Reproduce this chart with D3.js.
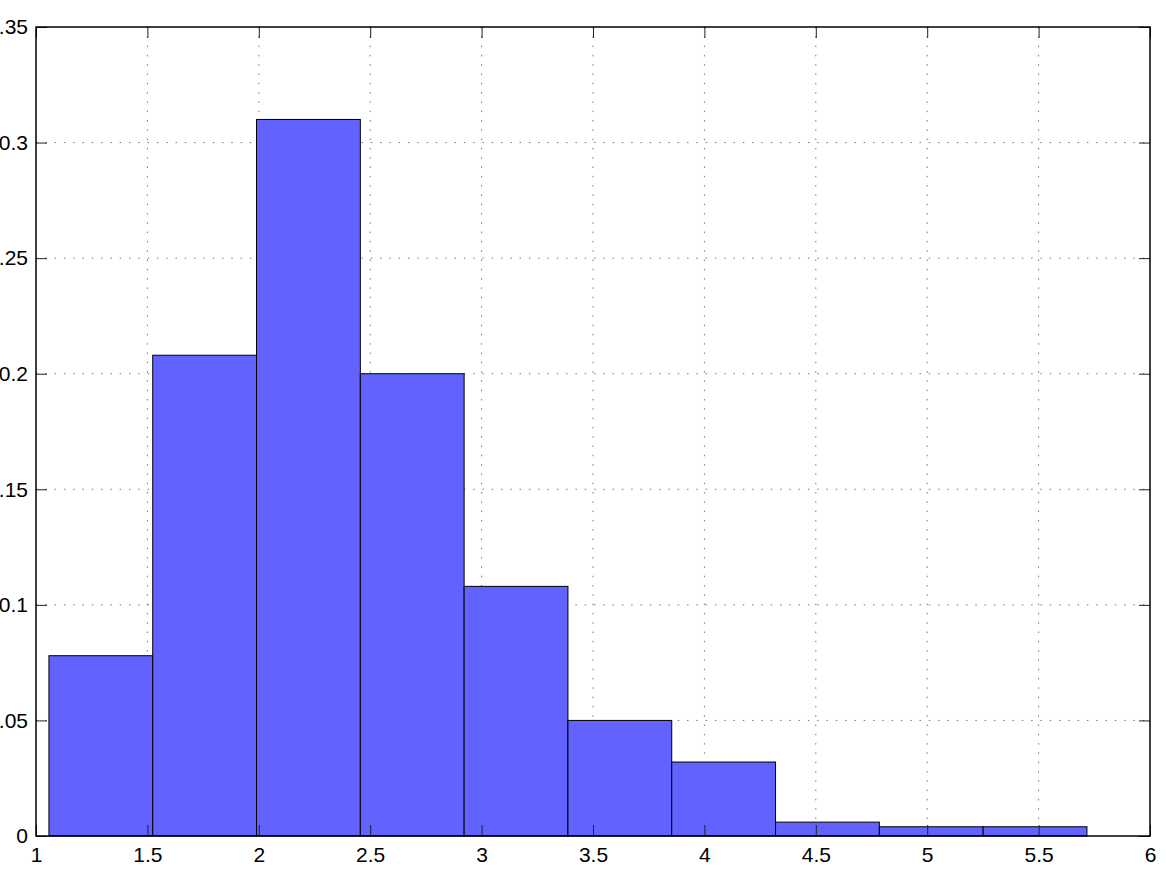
<!DOCTYPE html>
<html>
<head>
<meta charset="utf-8">
<script src="https://cdn.jsdelivr.net/npm/d3@7"></script>
<style>
  body { margin: 0; background: #fff; }
  text { font-family: "Liberation Sans", Arial, Helvetica, sans-serif; }
</style>
</head>
<body>
<script>
// histogram data
const binStart = 1.058;
const binWidth = 0.4659;
const freqs = [0.078, 0.208, 0.31, 0.2, 0.108, 0.05, 0.032, 0.006, 0.004, 0.004];
const xTicks = [1, 1.5, 2, 2.5, 3, 3.5, 4, 4.5, 5, 5.5, 6];
const yTicks = [0, 0.05, 0.1, 0.15, 0.2, 0.25, 0.3, 0.35];

const W = 1166, H = 875;
const margin = { top: 27, right: 16, bottom: 39, left: 36 };
const width = W - margin.left - margin.right;
const height = H - margin.top - margin.bottom;

const x = d3.scaleLinear().domain([1, 6]).range([0, width]);
const y = d3.scaleLinear().domain([0, 0.35]).range([height, 0]);

const svg = d3.select('body').append('svg')
  .attr('width', W)
  .attr('height', H);

const g = svg.append('g')
  .attr('transform', 'translate(' + margin.left + ',' + margin.top + ')');

// grid (dotted)
g.append('g').selectAll('line').data(xTicks.slice(1, -1)).join('line')
  .attr('x1', d => x(d)).attr('x2', d => x(d))
  .attr('y1', 0).attr('y2', height)
  .attr('stroke', '#777').attr('stroke-width', 1)
  .attr('stroke-dasharray', '1.5,7.8');
g.append('g').selectAll('line').data(yTicks.slice(1, -1)).join('line')
  .attr('y1', d => y(d)).attr('y2', d => y(d))
  .attr('x1', 0).attr('x2', width)
  .attr('stroke', '#777').attr('stroke-width', 1)
  .attr('stroke-dasharray', '1.5,7.8');

// bars
g.append('g').selectAll('rect').data(freqs).join('rect')
  .attr('x', (d, i) => x(binStart + i * binWidth))
  .attr('width', (d, i) => x(binStart + (i + 1) * binWidth) - x(binStart + i * binWidth))
  .attr('y', d => y(d))
  .attr('height', d => height - y(d))
  .attr('fill', '#6262ff')
  .attr('stroke', '#000')
  .attr('stroke-width', 1);

// axes, ticks pointing inward (matlab style)
const tl = 11;
const xAxis = d3.axisBottom(x).tickValues(xTicks).tickSizeInner(-tl).tickSizeOuter(0)
  .tickPadding(11).tickFormat(d3.format('~g'));
const yAxis = d3.axisLeft(y).tickValues(yTicks).tickSizeInner(-tl).tickSizeOuter(0)
  .tickPadding(8).tickFormat(d3.format('~g'));

const gx = g.append('g').attr('class', 'x axis')
  .attr('transform', 'translate(0,' + height + ')')
  .call(xAxis);
const gy = g.append('g').attr('class', 'y axis').call(yAxis);

// top and right ticks, no labels
const gxTop = g.append('g').call(d3.axisTop(x).tickValues(xTicks).tickSizeInner(-tl).tickSizeOuter(0).tickFormat(''));
const gyRight = g.append('g').attr('transform', 'translate(' + width + ',0)')
  .call(d3.axisRight(y).tickValues(yTicks).tickSizeInner(-tl).tickSizeOuter(0).tickFormat(''));

[gx, gy, gxTop, gyRight].forEach(a => {
  a.select('.domain').remove();
  a.selectAll('.tick line').attr('stroke', '#222');
  a.selectAll('text').attr('font-size', 21).attr('fill', '#000')
    .attr('font-family', '"Liberation Sans", Arial, sans-serif');
});

// box
g.append('rect')
  .attr('x', 0).attr('y', 0)
  .attr('width', width).attr('height', height)
  .attr('fill', 'none')
  .attr('stroke', '#000')
  .attr('stroke-width', 1.5);
</script>
</body>
</html>
